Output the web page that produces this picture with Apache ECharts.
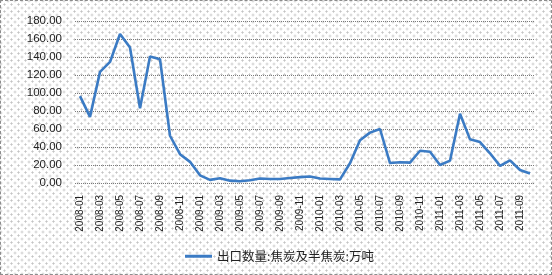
<!DOCTYPE html>
<html>
<head>
<meta charset="utf-8">
<script src="https://cdn.jsdelivr.net/npm/echarts@6/dist/echarts.min.js"></script>
<style>
html,body{margin:0;padding:0;background:#fff;}
#wrap{position:relative;width:552px;height:275px;box-sizing:border-box;border:1px dashed #8c8c8c;
background-color:#fff;
background-image:radial-gradient(circle,#c4c4c4 0.9px,transparent 1.2px),radial-gradient(circle,#c4c4c4 0.9px,transparent 1.2px);
background-size:7px 7px,7px 7px;background-position:0 0,3.5px 3.5px;}
#chart{position:absolute;left:-1px;top:-1px;width:552px;height:275px;}
</style>
</head>
<body>
<div id="wrap"><div id="chart"></div></div>
<script>
const categories = [
"2008-01","2008-02","2008-03","2008-04","2008-05","2008-06","2008-07","2008-08","2008-09","2008-10","2008-11","2008-12",
"2009-01","2009-02","2009-03","2009-04","2009-05","2009-06","2009-07","2009-08","2009-09","2009-10","2009-11","2009-12",
"2010-01","2010-02","2010-03","2010-04","2010-05","2010-06","2010-07","2010-08","2010-09","2010-10","2010-11","2010-12",
"2011-01","2011-02","2011-03","2011-04","2011-05","2011-06","2011-07","2011-08","2011-09","2011-10"];
const exportVolume = [
96.5, 73.5, 123.5, 134.5, 165.5, 150.5, 83, 140.5, 137.5, 52.5, 32, 23.5,
8.5, 3.5, 5.2, 2.6, 2, 3, 5, 4.4, 4.4, 5.5, 6.5, 7.2,
5, 4.5, 4, 22, 47.5, 56, 60, 22.2, 23, 22.6, 35.8, 34.8,
20, 24.8, 77, 48.5, 45.5, 33, 19, 25.2, 14.5, 10.5];
const seriesName = "出口数量:焦炭及半焦炭:万吨";
const yTicks = {min: 0, max: 180, interval: 20};

const chart = echarts.init(document.getElementById('chart'), null, {renderer: 'canvas'});
chart.setOption({
  animation: false,
  backgroundColor: 'transparent',
  grid: {left: 75, right: 17, top: 21, bottom: 92, containLabel: false},
  xAxis: {
    type: 'category',
    data: categories,
    boundaryGap: true,
    axisLine: {show: false},
    axisTick: {show: false},
    axisLabel: {rotate: 90, interval: 1, margin: 12, fontSize: 10, color: '#222',
      fontFamily: 'Liberation Sans, Arial, sans-serif'}
  },
  yAxis: {
    type: 'value',
    min: yTicks.min, max: yTicks.max, interval: yTicks.interval,
    axisLine: {show: false},
    axisTick: {show: false},
    axisLabel: {margin: 13, fontSize: 11.5, color: '#222',
      fontFamily: 'Liberation Sans, Arial, sans-serif',
      formatter: v => v.toFixed(2)},
    splitLine: {lineStyle: {color: '#7a7a7a', width: 1, type: [1, 1]}}
  },
  legend: {
    left: 180, top: 245,
    icon: 'rect', itemWidth: 27, itemHeight: 3,
    textStyle: {fontSize: 12.5, color: '#222', fontFamily: 'Noto Sans CJK SC, sans-serif'},
    data: [seriesName]
  },
  series: [{
    name: seriesName,
    type: 'line',
    data: exportVolume,
    showSymbol: false,
    symbol: 'none',
    lineStyle: {color: '#3b7bc4', width: 2.6},
    itemStyle: {color: '#3b7bc4'}
  }]
});
</script>
</body>
</html>
